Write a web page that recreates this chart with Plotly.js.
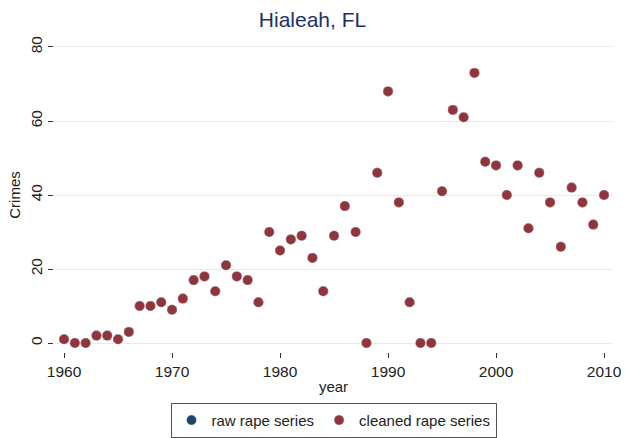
<!DOCTYPE html>
<html>
<head>
<meta charset="utf-8">
<script src="https://cdn.plot.ly/plotly-3.0.1.min.js"></script>
<style>html,body{margin:0;padding:0;background:#fff}#chart{width:625px;height:438px}</style>
</head>
<body>
<div id="chart"></div>
<script>
const years = [1960,1961,1962,1963,1964,1965,1966,1967,1968,1969,1970,1971,1972,1973,1974,1975,1976,1977,1978,1979,1980,1981,1982,1983,1984,1985,1986,1987,1988,1989,1990,1991,1992,1993,1994,1995,1996,1997,1998,1999,2000,2001,2002,2003,2004,2005,2006,2007,2008,2009,2010];
const rawRape = [1,0,0,2,2,1,3,10,10,11,9,12,17,18,14,21,18,17,11,30,25,28,29,23,14,29,37,30,0,46,68,38,11,0,0,41,63,61,73,49,48,40,48,31,46,38,26,42,38,32,40];
const cleanedRape = [1,0,0,2,2,1,3,10,10,11,9,12,17,18,14,21,18,17,11,30,25,28,29,23,14,29,37,30,0,46,68,38,11,0,0,41,63,61,73,49,48,40,48,31,46,38,26,42,38,32,40];
const seriesNames = ["raw rape series", "cleaned rape series"];
const yTicks = [0,20,40,60,80];
const xTicks = [1960,1970,1980,1990,2000,2010];

const font = "Liberation Sans, Arial, Helvetica, sans-serif";
const traces = [
  {x: years, y: rawRape, name: seriesNames[0], type: "scatter", mode: "markers",
   marker: {color: "#1a476f", size: 10, line: {width: 0.6, color: "rgba(255,255,255,0.6)"}}},
  {x: years, y: cleanedRape, name: seriesNames[1], type: "scatter", mode: "markers",
   marker: {color: "#90353b", size: 10, line: {width: 0.6, color: "rgba(255,255,255,0.6)"}}}
];
const layout = {
  width: 625, height: 438,
  paper_bgcolor: "#fff", plot_bgcolor: "#fff",
  margin: {l: 54, r: 12, t: 38, b: 86, autoexpand: false},
  font: {family: font, size: 15, color: "#222"},
  title: {text: "Hialeah, FL", font: {family: font, size: 21, color: "#1e3163"}, x: 0.5, xanchor: "center", y: 0.955, yanchor: "middle"},
  xaxis: {range: [1959.07, 2010.83], tickvals: xTicks, ticks: "outside", ticklen: 5, tickcolor: "#333",
          showgrid: false, zeroline: false, showline: false, automargin: false,
          tickfont: {size: 15.5, color: "#222"},
          title: {text: "year", font: {size: 15, color: "#222"}, standoff: 2}},
  yaxis: {range: [-2.43, 82.43], tickvals: yTicks, ticks: "outside", ticklen: 5, tickcolor: "#333", tickangle: -90,
          showgrid: true, gridcolor: "#e4ebeb", gridwidth: 1, zeroline: false, showline: false, automargin: false,
          tickfont: {size: 15.5, color: "#222"},
          title: {text: "Crimes", font: {size: 15, color: "#222"}, standoff: 3}},
  showlegend: true,
  legend: {orientation: "h", x: 0.5, xanchor: "center", y: -0.162, yanchor: "top",
           bordercolor: "#555", borderwidth: 1, font: {size: 15, color: "#222"},
           itemwidth: 30}
};
Plotly.newPlot("chart", traces, layout, {displayModeBar: false, staticPlot: true});
</script>
</body>
</html>
